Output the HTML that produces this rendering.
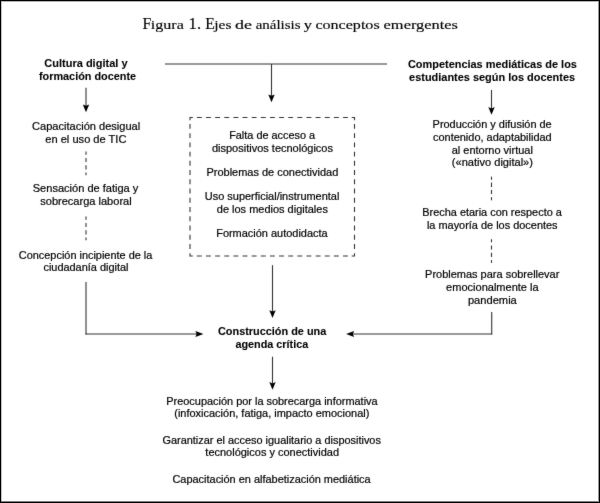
<!DOCTYPE html>
<html><head><meta charset="utf-8">
<style>
html,body{margin:0;padding:0;background:#fff;}
body{width:600px;height:503px;overflow:hidden;position:relative;}
#wrap{position:absolute;left:0;top:0;width:600px;height:503px;}
svg{position:absolute;left:0;top:0;}
.tx text{font-family:"Liberation Sans",sans-serif;font-size:11px;fill:#000;stroke:#000;stroke-width:0.2px;text-anchor:middle;}
.sh line,.sh path{stroke:#333;stroke-width:1.1;}
.sh .h{fill:#000;stroke:none;}
.tx text[font-weight]{stroke-width:0.08px;}
.title{font-family:"Liberation Serif",serif;font-size:13.5px;fill:#000;stroke:#000;stroke-width:0.15px;}
.b{position:absolute;background:#000;}
</style></head><body>
<div id="wrap">
<svg width="600" height="503" viewBox="0 0 600 503">
<defs><filter id="bl" color-interpolation-filters="sRGB" x="0" y="0" width="600" height="503" filterUnits="userSpaceOnUse"><feConvolveMatrix order="3" kernelMatrix="0.01 0.06 0.01 0.06 0.72 0.06 0.01 0.06 0.01" divisor="1" edgeMode="none" preserveAlpha="false"/></filter></defs>
<g filter="url(#bl)">
<rect x="0" y="0" width="600" height="503" fill="#fff"/>
<g class="sh">
<line x1="165" y1="64" x2="387" y2="64"/>
<line x1="271.5" y1="64" x2="271.5" y2="96"/>
<path d="M268.30 94.40 L271.50 102.20 L274.70 94.40 L271.50 95.80 Z" class="h"/>
<line x1="86" y1="87.8" x2="86" y2="107"/>
<path d="M82.80 104.40 L86.00 112.20 L89.20 104.40 L86.00 105.80 Z" class="h"/>
<line x1="491.5" y1="90" x2="491.5" y2="109"/>
<path d="M488.30 107.00 L491.50 114.80 L494.70 107.00 L491.50 108.40 Z" class="h"/>
<line x1="86" y1="151.6" x2="86" y2="154.8"/>
<line x1="86" y1="157.9" x2="86" y2="162.1"/>
<line x1="86" y1="165.2" x2="86" y2="169.4"/>
<line x1="86" y1="172.5" x2="86" y2="175.3"/>
<line x1="86" y1="216.6" x2="86" y2="219.8"/>
<line x1="86" y1="222.9" x2="86" y2="227.1"/>
<line x1="86" y1="230.2" x2="86" y2="234.4"/>
<line x1="86" y1="237.5" x2="86" y2="240.3"/>
<line x1="491.5" y1="176.6" x2="491.5" y2="179.8"/>
<line x1="491.5" y1="182.5" x2="491.5" y2="187.1"/>
<line x1="491.5" y1="189.9" x2="491.5" y2="194.0"/>
<line x1="491.5" y1="197.2" x2="491.5" y2="200.3"/>
<line x1="491.5" y1="239.2" x2="491.5" y2="242.3"/>
<line x1="491.5" y1="245.5" x2="491.5" y2="249.6"/>
<line x1="491.5" y1="252.8" x2="491.5" y2="257.0"/>
<line x1="491.5" y1="260.1" x2="491.5" y2="262.9"/>
<path d="M190.0 120.3 L190.0 117.5 L192.8 117.5 M351.7 117.5 L354.5 117.5 L354.5 120.3 M354.5 253.2 L354.5 256.0 L351.7 256.0 M192.8 256.0 L190.0 256.0 L190.0 253.2 M196.90 117.5 L201.75 117.5 M196.90 256.0 L201.75 256.0 M206.03 117.5 L210.88 117.5 M206.03 256.0 L210.88 256.0 M215.17 117.5 L220.02 117.5 M215.17 256.0 L220.02 256.0 M224.30 117.5 L229.15 117.5 M224.30 256.0 L229.15 256.0 M233.44 117.5 L238.29 117.5 M233.44 256.0 L238.29 256.0 M242.57 117.5 L247.42 117.5 M242.57 256.0 L247.42 256.0 M251.71 117.5 L256.56 117.5 M251.71 256.0 L256.56 256.0 M260.84 117.5 L265.69 117.5 M260.84 256.0 L265.69 256.0 M269.98 117.5 L274.83 117.5 M269.98 256.0 L274.83 256.0 M279.11 117.5 L283.96 117.5 M279.11 256.0 L283.96 256.0 M288.24 117.5 L293.09 117.5 M288.24 256.0 L293.09 256.0 M297.38 117.5 L302.23 117.5 M297.38 256.0 L302.23 256.0 M306.51 117.5 L311.36 117.5 M306.51 256.0 L311.36 256.0 M315.65 117.5 L320.50 117.5 M315.65 256.0 L320.50 256.0 M324.78 117.5 L329.63 117.5 M324.78 256.0 L329.63 256.0 M333.92 117.5 L338.77 117.5 M333.92 256.0 L338.77 256.0 M343.05 117.5 L347.90 117.5 M343.05 256.0 L347.90 256.0 M190.0 123.90 L190.0 128.75 M354.5 123.90 L354.5 128.75 M190.0 133.14 L190.0 137.99 M354.5 133.14 L354.5 137.99 M190.0 142.38 L190.0 147.23 M354.5 142.38 L354.5 147.23 M190.0 151.63 L190.0 156.48 M354.5 151.63 L354.5 156.48 M190.0 160.87 L190.0 165.72 M354.5 160.87 L354.5 165.72 M190.0 170.11 L190.0 174.96 M354.5 170.11 L354.5 174.96 M190.0 179.35 L190.0 184.20 M354.5 179.35 L354.5 184.20 M190.0 188.60 L190.0 193.45 M354.5 188.60 L354.5 193.45 M190.0 197.84 L190.0 202.69 M354.5 197.84 L354.5 202.69 M190.0 207.08 L190.0 211.93 M354.5 207.08 L354.5 211.93 M190.0 216.32 L190.0 221.17 M354.5 216.32 L354.5 221.17 M190.0 225.57 L190.0 230.42 M354.5 225.57 L354.5 230.42 M190.0 234.81 L190.0 239.66 M354.5 234.81 L354.5 239.66 M190.0 244.05 L190.0 248.90 M354.5 244.05 L354.5 248.90" fill="none"/>
<line x1="272.5" y1="265.2" x2="272.5" y2="312"/>
<path d="M269.30 310.20 L272.50 318.00 L275.70 310.20 L272.50 311.60 Z" class="h"/>
<line x1="86" y1="281.9" x2="86" y2="334.5"/>
<line x1="85.5" y1="334" x2="197" y2="334"/>
<path d="M195.40 330.90 L203.40 334.00 L195.40 337.10 L196.60 334.00 Z" class="h"/>
<line x1="491.7" y1="312" x2="491.7" y2="334.5"/>
<line x1="492.2" y1="334" x2="352" y2="334"/>
<path d="M354.10 330.90 L346.10 334.00 L354.10 337.10 L352.90 334.00 Z" class="h"/>
<line x1="272.5" y1="356.7" x2="272.5" y2="384"/>
<path d="M269.30 382.00 L272.50 389.80 L275.70 382.00 L272.50 383.40 Z" class="h"/>
</g>
<g class="tx">
<text x="85.90" y="67.0" font-weight="bold" textLength="83.25" lengthAdjust="spacingAndGlyphs">Cultura digital y</text>
<text x="87.51" y="79.9" font-weight="bold" textLength="97.14" lengthAdjust="spacingAndGlyphs">formación docente</text>
<text x="86.14" y="130.0" textLength="108.14" lengthAdjust="spacingAndGlyphs">Capacitación desigual</text>
<text x="85.88" y="142.7" textLength="81.15" lengthAdjust="spacingAndGlyphs">en el uso de TIC</text>
<text x="85.55" y="191.8" textLength="105.58" lengthAdjust="spacingAndGlyphs">Sensación de fatiga y</text>
<text x="85.96" y="204.8" textLength="91.45" lengthAdjust="spacingAndGlyphs">sobrecarga laboral</text>
<text x="85.57" y="258.5" textLength="133.48" lengthAdjust="spacingAndGlyphs">Concepción incipiente de la</text>
<text x="85.95" y="271.3" textLength="85.02" lengthAdjust="spacingAndGlyphs">ciudadanía digital</text>
<text x="272.16" y="138.8" textLength="86.03" lengthAdjust="spacingAndGlyphs">Falta de acceso a</text>
<text x="272.46" y="151.7" textLength="121.06" lengthAdjust="spacingAndGlyphs">dispositivos tecnológicos</text>
<text x="272.39" y="176.4" textLength="131.78" lengthAdjust="spacingAndGlyphs">Problemas de conectividad</text>
<text x="272.09" y="200.3" textLength="134.58" lengthAdjust="spacingAndGlyphs">Uso superficial/instrumental</text>
<text x="272.36" y="212.7" textLength="111.12" lengthAdjust="spacingAndGlyphs">de los medios digitales</text>
<text x="271.91" y="237.4" textLength="111.43" lengthAdjust="spacingAndGlyphs">Formación autodidacta</text>
<text x="492.41" y="67.6" font-weight="bold" textLength="168.97" lengthAdjust="spacingAndGlyphs">Competencias mediáticas de los</text>
<text x="492.10" y="80.7" font-weight="bold" textLength="166.04" lengthAdjust="spacingAndGlyphs">estudiantes según los docentes</text>
<text x="492.15" y="128.1" textLength="119.06" lengthAdjust="spacingAndGlyphs">Producción y difusión de</text>
<text x="492.34" y="141.0" textLength="118.68" lengthAdjust="spacingAndGlyphs">contenido, adaptabilidad</text>
<text x="492.31" y="153.6" textLength="81.13" lengthAdjust="spacingAndGlyphs">al entorno virtual</text>
<text x="492.41" y="166.2" textLength="81.09" lengthAdjust="spacingAndGlyphs">(«nativo digital»)</text>
<text x="492.06" y="216.4" textLength="139.61" lengthAdjust="spacingAndGlyphs">Brecha etaria con respecto a</text>
<text x="492.24" y="229.3" textLength="130.63" lengthAdjust="spacingAndGlyphs">la mayoría de los docentes</text>
<text x="492.24" y="277.8" textLength="134.30" lengthAdjust="spacingAndGlyphs">Problemas para sobrellevar</text>
<text x="492.37" y="290.6" textLength="92.54" lengthAdjust="spacingAndGlyphs">emocionalmente la</text>
<text x="492.37" y="303.5" textLength="48.88" lengthAdjust="spacingAndGlyphs">pandemia</text>
<text x="272.14" y="335.0" font-weight="bold" textLength="108.33" lengthAdjust="spacingAndGlyphs">Construcción de una</text>
<text x="271.84" y="347.7" font-weight="bold" textLength="72.81" lengthAdjust="spacingAndGlyphs">agenda crítica</text>
<text x="271.96" y="404.7" textLength="211.31" lengthAdjust="spacingAndGlyphs">Preocupación por la sobrecarga informativa</text>
<text x="271.83" y="417.3" textLength="195.15" lengthAdjust="spacingAndGlyphs">(infoxicación, fatiga, impacto emocional)</text>
<text x="271.68" y="443.7" textLength="218.41" lengthAdjust="spacingAndGlyphs">Garantizar el acceso igualitario a dispositivos</text>
<text x="272.20" y="456.3" textLength="133.68" lengthAdjust="spacingAndGlyphs">tecnológicos y conectividad</text>
<text x="271.56" y="482.5" textLength="198.18" lengthAdjust="spacingAndGlyphs">Capacitación en alfabetización mediática</text>
</g>
<text class="title" x="142.48" y="28.6" style="font-size:17px" textLength="8.77" lengthAdjust="spacingAndGlyphs">F</text>
<text class="title" x="150.74" y="28.6" style="font-size:13.5px" textLength="33.05" lengthAdjust="spacingAndGlyphs">igura</text>
<text class="title" x="188.61" y="28.6" style="font-size:17px" textLength="12.45" lengthAdjust="spacingAndGlyphs">1.</text>
<text class="title" x="205.29" y="28.6" style="font-size:17px" textLength="9.62" lengthAdjust="spacingAndGlyphs">E</text>
<text class="title" x="214.30" y="28.6" style="font-size:13.5px" textLength="17.13" lengthAdjust="spacingAndGlyphs">jes</text>
<text class="title" x="235.01" y="28.6" style="font-size:13.5px" textLength="16.95" lengthAdjust="spacingAndGlyphs">de</text>
<text class="title" x="255.68" y="28.6" style="font-size:13.5px" textLength="44.79" lengthAdjust="spacingAndGlyphs">análisis</text>
<text class="title" x="303.85" y="28.6" style="font-size:13.5px" textLength="8.19" lengthAdjust="spacingAndGlyphs">y</text>
<text class="title" x="315.42" y="28.6" style="font-size:13.5px" textLength="64.26" lengthAdjust="spacingAndGlyphs">conceptos</text>
<text class="title" x="383.60" y="28.6" style="font-size:13.5px" textLength="74.38" lengthAdjust="spacingAndGlyphs">emergentes</text>
</g>
</svg>
</div>
<div class="b" style="left:0;top:0;width:600px;height:1px"></div>
<div class="b" style="left:1px;top:1px;width:597px;height:1px;opacity:.3"></div>
<div class="b" style="left:0;top:0;width:1px;height:503px"></div>
<div class="b" style="left:1px;top:2px;width:1px;height:499px;opacity:.25"></div>
<div class="b" style="left:599px;top:0;width:1px;height:503px"></div>
<div class="b" style="left:598px;top:1px;width:1px;height:502px;opacity:.4"></div>
<div class="b" style="left:0;top:502px;width:600px;height:1px"></div>
<div class="b" style="left:1px;top:501px;width:597px;height:1px;opacity:.5"></div>
</body></html>
